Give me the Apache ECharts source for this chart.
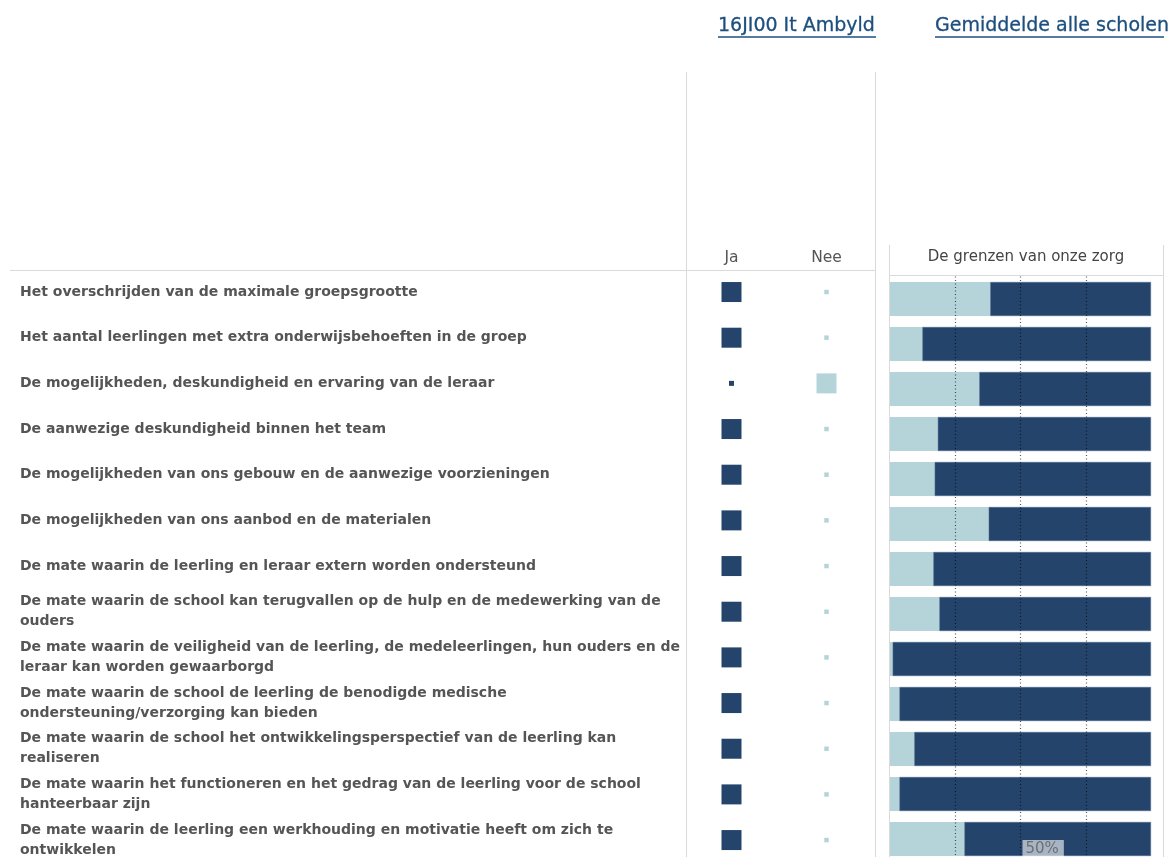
<!DOCTYPE html>
<html>
<head>
<meta charset="utf-8">
<title>De grenzen van onze zorg</title>
<script src="https://cdn.jsdelivr.net/npm/echarts@6/dist/echarts.min.js"></script>
<style>
  html, body { margin: 0; padding: 0; background: #ffffff; overflow: hidden; }
  /* iets hoger dan het venster: de onderste rij loopt door onder de rand */
  #chart { width: 1168px; height: 900px; }
</style>
</head>
<body>
<div id="chart"></div>
<script>
// vragen (categorieën), van boven naar beneden
const vragen = [
  'Het overschrijden van de maximale groepsgrootte',
  'Het aantal leerlingen met extra onderwijsbehoeften in de groep',
  'De mogelijkheden, deskundigheid en ervaring van de leraar',
  'De aanwezige deskundigheid binnen het team',
  'De mogelijkheden van ons gebouw en de aanwezige voorzieningen',
  'De mogelijkheden van ons aanbod en de materialen',
  'De mate waarin de leerling en leraar extern worden ondersteund',
  'De mate waarin de school kan terugvallen op de hulp en de medewerking van de\nouders',
  'De mate waarin de veiligheid van de leerling, de medeleerlingen, hun ouders en de\nleraar kan worden gewaarborgd',
  'De mate waarin de school de leerling de benodigde medische\nondersteuning/verzorging kan bieden',
  'De mate waarin de school het ontwikkelingsperspectief van de leerling kan\nrealiseren',
  'De mate waarin het functioneren en het gedrag van de leerling voor de school\nhanteerbaar zijn',
  'De mate waarin de leerling een werkhouding en motivatie heeft om zich te\nontwikkelen'
];

const antwoordKolommen = ['Ja', 'Nee'];

// antwoord van de school (1 = gekozen)
const schoolJa = [1, 1, 0, 1, 1, 1, 1, 1, 1, 1, 1, 1, 1];
const schoolNee = [0, 0, 1, 0, 0, 0, 0, 0, 0, 0, 0, 0, 0];

// gemiddelde alle scholen, in procenten
const gemiddeldNee = [38.4, 12.4, 34.2, 18.3, 17.1, 37.8, 16.6, 18.9, 1.0, 3.6, 9.3, 3.6, 28.5];
const gemiddeldJa = [61.6, 87.6, 65.8, 81.7, 82.9, 62.2, 83.4, 81.1, 99.0, 96.4, 90.7, 96.4, 71.5];

// referentielijnen op de procentas
const referentieLijnen = [25, 50, 75];

const DONKER = '#25446b';
const LICHT = '#b5d4da';
const GRIJS = '#dadada';
const LINK = '#1d4f7e';

const chart = echarts.init(document.getElementById('chart'), null, { renderer: 'canvas' });

function lijn(x1, y1, x2, y2, kleur, dikte) {
  return {
    type: 'line',
    silent: true,
    shape: { x1, y1, x2, y2 },
    style: { stroke: kleur || GRIJS, lineWidth: dikte || 1 }
  };
}

const option = {
  backgroundColor: '#ffffff',
  animation: false,
  title: [
    {
      text: '16JI00 It Ambyld',
      left: 718, top: 17, padding: 0,
      textStyle: { color: LINK, fontFamily: 'DejaVu Sans', fontSize: 19, fontWeight: 'normal', textBorderColor: LINK, textBorderWidth: 0.3 }
    },
    {
      text: 'Gemiddelde alle scholen',
      left: 935, top: 17, padding: 0,
      textStyle: { color: LINK, fontFamily: 'DejaVu Sans', fontSize: 19, fontWeight: 'normal', textBorderColor: LINK, textBorderWidth: 0.3 }
    },
    {
      text: 'De grenzen van onze zorg',
      left: 1026, top: 250, padding: 0, textAlign: 'center',
      textStyle: { color: '#444', fontFamily: 'DejaVu Sans', fontSize: 15, fontWeight: 'normal' }
    }
  ],
  graphic: [
    // onderstreping van de koppen
    lijn(718, 37, 876, 37, LINK, 1.6),
    lijn(935, 37, 1164, 37, LINK, 1.6),
    // tabelranden
    lijn(10, 270.5, 875, 270.5),
    lijn(686.5, 72, 686.5, 900),
    lijn(875.5, 72, 875.5, 900),
    lijn(889.5, 245, 889.5, 900),
    lijn(1163.5, 245, 1163.5, 900),
    lijn(889, 275.5, 1164, 275.5)
  ],
  grid: [
    { left: 684, width: 190, top: 269.2, height: 593.7 },
    { left: 890, width: 261, top: 276.5, height: 585 }
  ],
  xAxis: [
    {
      gridIndex: 0,
      type: 'category',
      position: 'top',
      data: antwoordKolommen,
      axisLine: { show: false },
      axisTick: { show: false },
      axisLabel: { color: '#555', fontFamily: 'DejaVu Sans', fontSize: 15.5, margin: 3 },
      splitLine: { show: false }
    },
    {
      gridIndex: 1,
      type: 'value',
      min: 0,
      max: 100,
      interval: 25,
      axisLine: { show: false },
      axisTick: { show: false },
      axisLabel: { show: false },
      splitLine: { show: false }
    }
  ],
  yAxis: [
    {
      gridIndex: 0,
      type: 'category',
      inverse: true,
      data: vragen,
      axisLine: { show: false },
      axisTick: { show: false },
      axisLabel: {
        interval: 0,
        align: 'left',
        margin: 664,
        color: '#555',
        fontFamily: 'DejaVu Sans',
        fontWeight: 'bold',
        fontSize: 14,
        lineHeight: 20
      }
    },
    {
      gridIndex: 1,
      type: 'category',
      inverse: true,
      data: vragen,
      axisLine: { show: false },
      axisTick: { show: false },
      axisLabel: { show: false }
    }
  ],
  series: [
    {
      name: 'Ja',
      type: 'scatter',
      xAxisIndex: 0,
      yAxisIndex: 0,
      symbol: 'rect',
      symbolSize: (val) => (val[2] ? 20 : 5),
      itemStyle: { color: DONKER, opacity: 1 },
      data: schoolJa.map((v, i) => [0, i, v])
    },
    {
      name: 'Nee',
      type: 'scatter',
      xAxisIndex: 0,
      yAxisIndex: 0,
      symbol: 'rect',
      symbolSize: (val) => (val[2] ? 20 : 4.5),
      itemStyle: { color: LICHT, opacity: 1 },
      data: schoolNee.map((v, i) => [1, i, v])
    },
    {
      name: 'Nee gemiddeld',
      type: 'bar',
      xAxisIndex: 1,
      yAxisIndex: 1,
      stack: 'gemiddeld',
      barWidth: 34,
      itemStyle: { color: LICHT },
      data: gemiddeldNee
    },
    {
      name: 'Ja gemiddeld',
      type: 'bar',
      xAxisIndex: 1,
      yAxisIndex: 1,
      stack: 'gemiddeld',
      barWidth: 34,
      itemStyle: { color: DONKER, borderColor: '#4b6a8f', borderWidth: 0.6 },
      data: gemiddeldJa,
      markLine: {
        silent: true,
        symbol: 'none',
        z: 10,
        label: { show: false },
        lineStyle: { color: 'rgba(0,0,0,0.65)', type: [1, 2.5], width: 1.2 },
        data: referentieLijnen.map(v => ({ xAxis: v }))
      },
      markPoint: {
        silent: true,
        symbol: 'rect',
        symbolSize: 0,
        z: 11,
        label: {
          show: true,
          position: [2, 1],
          align: 'left',
          verticalAlign: 'top',
          formatter: '50%',
          color: '#6f6f6f',
          fontFamily: 'DejaVu Sans',
          fontSize: 15,
          backgroundColor: 'rgba(255,255,255,0.6)',
          padding: [2, 5, 4, 3]
        },
        data: [{ coord: [50, vragen[vragen.length - 1]] }]
      }
    }
  ]
};

chart.setOption(option);
</script>
</body>
</html>
